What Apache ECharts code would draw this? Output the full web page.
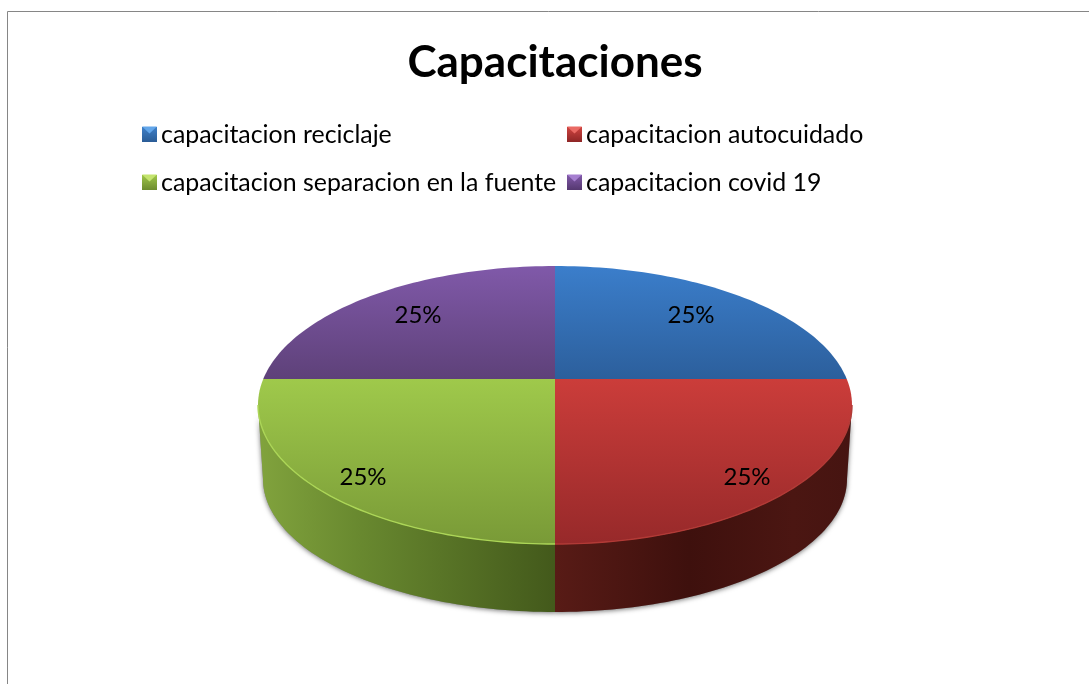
<!DOCTYPE html>
<html><head><meta charset="utf-8">
<style>html,body{margin:0;padding:0;background:#fff}#c{width:1089px;height:684px}</style>
<script src="https://cdn.jsdelivr.net/npm/echarts@6/dist/echarts.min.js"></script>
</head><body><div id="c"></div>
<script>
const titleText = 'Capacitaciones';
const categories = ['capacitacion reciclaje','capacitacion autocuidado','capacitacion separacion en la fuente','capacitacion covid 19'];
const values = [25,25,25,25];

const FONT = 'Lato, Carlito, sans-serif';
const TOP = {cx:555, cy:405, rx:297, ry:139};
const BOT = {cx:555, cy:479, rx:292, ry:133};
const APEX = {x:555, y:379};
const topGrad = [['#3b7ecb','#2c5f9c'],['#cb3d3a','#97292a'],['#9fc94b','#799a37'],['#8059a9','#5e4179']];
const wallGrad = [null,[['0','#581b16'],['.45','#3e100d'],['.8','#4b1612'],['1','#461411']],[['0','#81a33d'],['.35','#68882f'],['1','#43591b']],null];
const rimColor = [null,'#b23a36','#acd657',null];
const labelShift = [[136,-64],[192,98],[-192,98],[-137,-64]];
const drawOrder = [3,0,2,1];
const legendPos = [[137,117],[562,117],[137,165],[562,165]];
const legendGrad = [['#3f80c8','#2a5c96'],['#cf4440','#8e2626'],['#9fc64a','#6d8c2e'],['#8159a9','#553870']];
const legendBevel = ['#62a6ea','#ea6a64','#c4e46e','#a67fd0'];

const total = values.reduce((a,b)=>a+b,0);
const cum = values.reduce((acc,v)=>{acc.push(acc[acc.length-1]+v/total);return acc;},[0]);

function rayPhi(frac){
  const th = 2*Math.PI*frac, dx = Math.sin(th), dy = -Math.cos(th);
  const ox = (APEX.x-TOP.cx)/TOP.rx, oy = (APEX.y-TOP.cy)/TOP.ry;
  const ax = dx/TOP.rx, ay = dy/TOP.ry;
  const a = ax*ax+ay*ay, b = 2*(ox*ax+oy*ay), c = ox*ox+oy*oy-1;
  const t = (-b+Math.sqrt(b*b-4*a*c))/(2*a);
  let phi = Math.atan2(ox+ax*t, -(oy+ay*t));
  if (phi < -1e-9) phi += 2*Math.PI;
  return phi;
}
const pt = (e,phi)=>[e.cx+e.rx*Math.sin(phi), e.cy-e.ry*Math.cos(phi)];
function arc(e,p0,p1){const n=64,out=[];for(let i=0;i<=n;i++)out.push(pt(e,p0+(p1-p0)*i/n));return out;}
const lin = (stops,h)=>({type:'linear',x:0,y:0,x2:h?1:0,y2:h?0:1,colorStops:stops.map(s=>({offset:+s[0],color:s[1]}))});

function renderItem(params, api){
  const idx = drawOrder[params.seriesIndex];
  const pct = Math.round(api.value(0)/total*100)+'%';
  const p0 = rayPhi(cum[idx]);
  let p1 = rayPhi(cum[idx+1]); if (p1 <= p0) p1 += 2*Math.PI;
  const kids = [];
  const w0 = Math.max(p0,Math.PI/2), w1 = Math.min(p1,3*Math.PI/2);
  if (w1 > w0){
    const wall = arc(TOP,w0,w1).concat(arc(BOT,w1,w0));
    kids.push({type:'polygon',z2:0,shape:{points:wall},style:{fill:'#888',shadowBlur:5,shadowColor:'rgba(0,0,0,0.55)',shadowOffsetX:0,shadowOffsetY:1}});
    kids.push({type:'polygon',z2:1,shape:{points:wall},style:{fill:lin(wallGrad[idx],true)}});
  }
  const face = [[APEX.x,APEX.y]].concat(arc(TOP,p0,p1));
  kids.push({type:'polygon',z2:2,shape:{points:face},style:{fill:lin([[0,topGrad[idx][0]],[1,topGrad[idx][1]]],false)}});
  if (rimColor[idx]) kids.push({type:'polyline',z2:3,shape:{points:arc(TOP,w0,w1)},style:{fill:null,stroke:rimColor[idx],lineWidth:1.4}});
  kids.push({type:'text',z2:5,style:{text:pct,x:APEX.x+labelShift[idx][0],y:APEX.y+labelShift[idx][1],align:'center',verticalAlign:'middle',fill:'#000',font:'24px '+FONT}});
  return {type:'group',children:kids};
}

const bevels = categories.map((c,i)=>{
  const x = legendPos[i][0]+5, y = legendPos[i][1]+9.5;
  return {type:'polygon',silent:true,z:20,shape:{points:[[x,y],[x+15,y],[x+7.5,y+7]]},style:{fill:legendBevel[i]}};
});

const chart = echarts.init(document.getElementById('c'),null,{renderer:'canvas'});
chart.setOption({
  animation:false,
  backgroundColor:'#fff',
  title:{text:titleText,left:550,top:36,textAlign:'center',textStyle:{fontFamily:FONT,fontSize:44,fontWeight:'bold',color:'#000'}},
  legend: categories.map((c,i)=>({
    data:[{name:c,icon:'rect',itemStyle:{color:lin([[0,legendGrad[i][0]],[1,legendGrad[i][1]]],false)}}],
    left:legendPos[i][0],top:legendPos[i][1],itemWidth:15,itemHeight:15,itemGap:5,selectedMode:false,
    textStyle:{fontFamily:FONT,fontSize:24.9,color:'#000',padding:[0,0,0,-1]}
  })),
  graphic:[{type:'polyline',silent:true,shape:{points:[[7.5,684],[7.5,11.5],[1089,11.5]]},style:{fill:null,stroke:'#868686',lineWidth:1}}].concat(bevels),
  series: drawOrder.map(i=>({type:'custom',name:categories[i],coordinateSystem:'none',renderItem,silent:true,data:[[values[i]]]}))
});
</script></body></html>
